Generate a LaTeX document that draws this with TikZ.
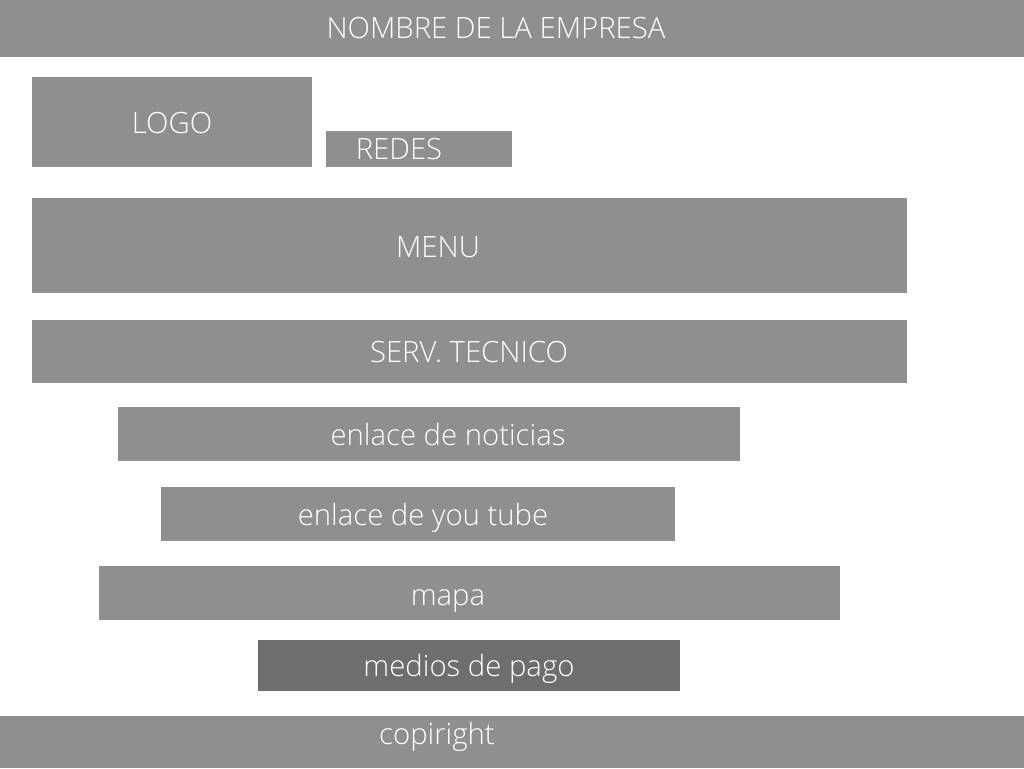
\documentclass[tikz,border=0pt]{standalone}
\usepackage{fontspec}
\setmainfont{Open Sans}[UprightFont=* Light]
\begin{document}
\begin{tikzpicture}[x=1pt,y=-1pt,
  box/.style={fill=boxgray,draw=none,inner sep=0pt},
  lbl/.style={text=white,inner sep=0pt,font=\fontsize{29.3}{33}\selectfont,anchor=base}]
\definecolor{boxgray}{HTML}{8F8F8F}
\definecolor{darkgray2}{HTML}{6E6E6E}
\useasboundingbox (0,0) rectangle (1024,768);
\fill[white] (0,0) rectangle (1024,768);
% boxes
\path[box] (0,0) rectangle (1024,57);
\path[box] (32,77) rectangle (312,167);
\path[box] (326,131) rectangle (512,167);
\path[box] (32,198) rectangle (907,293);
\path[box] (32,320) rectangle (907,383);
\path[box] (118,407) rectangle (740,461);
\path[box] (161,487) rectangle (675,541);
\path[box] (99,566) rectangle (840,620);
\path[box,fill=darkgray2] (258,640) rectangle (680,691);
\path[box] (0,716) rectangle (1024,768);
% labels
\node[lbl] (t1) at (496,39) {NOMBRE DE LA EMPRESA};
\node[lbl] (t2) at (172,133) {LOGO};
\node[lbl] (t3) at (399,159) {REDES};
\node[lbl] (t4) at (438,257) {MENU};
\node[lbl] (t5) at (469,362) {SERV. TECNICO};
\node[lbl] (t6) at (448,445) {enlace de noticias};
\node[lbl] (t7) at (423,525) {enlace de you tube};
\node[lbl] (t8) at (448,605) {mapa};
\node[lbl] (t9) at (469,676) {medios de pago};
\node[lbl] (t10) at (437,744) {copiright};
\end{tikzpicture}
\end{document}
